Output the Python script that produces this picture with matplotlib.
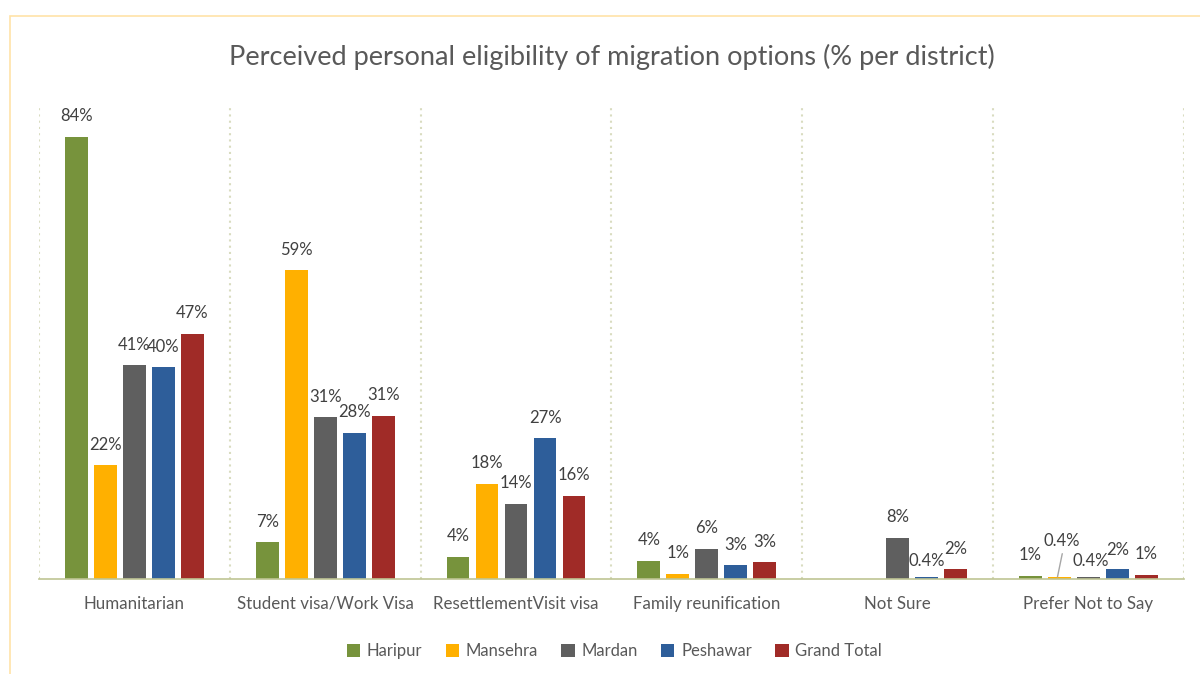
import matplotlib.pyplot as plt
import numpy as np
from matplotlib.patches import Rectangle

plt.rcParams['font.family'] = ['Lato', 'DejaVu Sans']

# Categories and series (percent per district)
categories = ["Humanitarian", "Student visa/Work Visa", "ResettlementVisit visa",
              "Family reunification", "Not Sure", "Prefer Not to Say"]
series = ["Haripur", "Mansehra", "Mardan", "Peshawar", "Grand Total"]
haripur = [84, 7, 4.2, 3.5, 0, 0.6]
mansehra = [21.6, 58.6, 18.1, 1.0, 0, 0.4]
mardan = [40.6, 30.7, 14.3, 5.7, 7.8, 0.4]
peshawar = [40.2, 27.8, 26.7, 2.6, 0.4, 1.8]
grand_total = [46.6, 31.0, 15.8, 3.2, 1.8, 0.8]
colors = ["#77933C", "#FFB000", "#5F5F5F", "#2E5E9A", "#A02B27"]

values = [haripur, mansehra, mardan, peshawar, grand_total]

fig = plt.figure(figsize=(12, 6.74), dpi=100)
ax = fig.add_axes([0.0325, 0.141, 0.954, 0.703])

x = np.arange(len(categories))
width = 0.12
step = 0.152

# manual label offsets (points) for crowded small bars, keyed by (series, category)
nudges = {(1, 5): (2, 20), (2, 5): (2, 6), (3, 4): (0, 6), (3, 5): (0, 8)}

for s, (vals, col) in enumerate(zip(values, colors)):
    xs = x + (s - 2) * step
    ax.bar(xs, vals, width=width, color=col, label=series[s], zorder=3)
    for c, (xi, v) in enumerate(zip(xs, vals)):
        if v == 0:
            continue
        lbl = f"{v:.0f}%" if round(v) >= 1 else f"{v:.1f}%"
        dx, dy = nudges.get((s, c), (0, 9))
        ax.annotate(lbl, (xi, v), xytext=(dx, dy), textcoords='offset points',
                    ha='center', va='bottom', fontsize=12, color='#404040')

# leader line for the lifted Mansehra label in the last group
xm = x[5] + (1 - 2) * step
ax.annotate("", (xm - 0.01, mansehra[5]), xytext=(xm + 0.015, 4.8),
            arrowprops=dict(arrowstyle='-', color='#A6A6A6', lw=1, shrinkA=0, shrinkB=0))

ax.set_xlim(-0.5, 5.5)
ax.set_ylim(0, 90)
ax.set_xticks(x)
ax.set_xticklabels(categories, fontsize=12.2, color='#595959')
ax.set_xticks(np.arange(-0.5, 6, 1), minor=True)
ax.tick_params(axis='x', which='both', length=0, pad=12)
ax.set_yticks([])
ax.grid(axis='x', which='minor', linestyle=(0, (1, 2)), color='#D9DCC0', lw=1.5, zorder=0)
for sp in ['top', 'right', 'left']:
    ax.spines[sp].set_visible(False)
ax.spines['bottom'].set_color('#BFC594')
ax.spines['bottom'].set_linewidth(1.2)
ax.spines['bottom'].set_zorder(4)

fig.text(0.51, 0.915, "Perceived personal eligibility of migration options (% per district)",
         ha='center', va='center', fontsize=19.5, color='#595959')

leg = fig.legend(loc='center', bbox_to_anchor=(0.512, 0.034), ncol=5, frameon=False,
                 fontsize=12, handlelength=0.8, handleheight=0.8, handletextpad=0.4,
                 columnspacing=1.4)
for t in leg.get_texts():
    t.set_color('#595959')

# chart border
fig.patches.append(Rectangle((10 / 1200, -0.1), 1.2, 1 - 16 / 674 + 0.1,
                             transform=fig.transFigure, fill=False,
                             edgecolor='#FFE3A8', lw=1.2))

fig.savefig('out.png', dpi=100)
